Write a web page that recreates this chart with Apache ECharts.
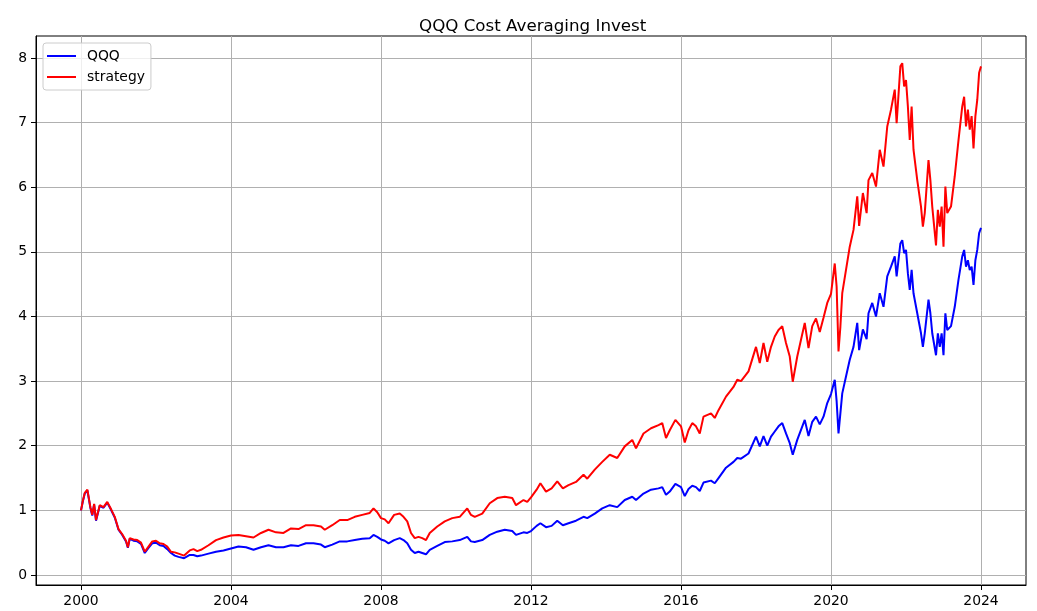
<!DOCTYPE html>
<html>
<head>
<meta charset="utf-8">
<title>QQQ Cost Averaging Invest</title>
<script src="https://cdn.jsdelivr.net/npm/echarts@6/dist/echarts.min.js"></script>
<style>
  html, body { margin: 0; padding: 0; background: #fff; }
  #chart { width: 1037px; height: 611px; }
</style>
</head>
<body>
<div id="chart"></div>
<script>
// time in decimal years
var years = [
  2000.0, 2000.05, 2000.1, 2000.17, 2000.25, 2000.3, 2000.35, 2000.4, 2000.5, 2000.6,
  2000.7, 2000.8, 2000.9, 2001.0, 2001.1, 2001.2, 2001.25, 2001.3, 2001.4, 2001.5,
  2001.6, 2001.7, 2001.8, 2001.9, 2002.0, 2002.1, 2002.2, 2002.3, 2002.4, 2002.5,
  2002.6, 2002.75, 2002.9, 2003.0, 2003.1, 2003.2, 2003.4, 2003.6, 2003.8, 2004.0,
  2004.2, 2004.4, 2004.6, 2004.8, 2005.0, 2005.2, 2005.4, 2005.6, 2005.8, 2006.0,
  2006.2, 2006.4, 2006.5, 2006.7, 2006.9, 2007.1, 2007.3, 2007.5, 2007.7, 2007.8,
  2007.9, 2008.0, 2008.1, 2008.2, 2008.35, 2008.5, 2008.6, 2008.7, 2008.8, 2008.9,
  2009.0, 2009.1, 2009.2, 2009.3, 2009.5, 2009.7, 2009.9, 2010.1, 2010.3, 2010.4,
  2010.5, 2010.7, 2010.9, 2011.1, 2011.3, 2011.5, 2011.6, 2011.8, 2011.9, 2012.0,
  2012.15, 2012.25, 2012.4, 2012.55, 2012.7, 2012.85, 2013.0, 2013.2, 2013.4, 2013.5,
  2013.7, 2013.9, 2014.1, 2014.3, 2014.5, 2014.7, 2014.8, 2015.0, 2015.2, 2015.4,
  2015.5, 2015.6, 2015.7, 2015.85, 2016.0, 2016.1, 2016.2, 2016.3, 2016.4, 2016.5,
  2016.6, 2016.8, 2016.9, 2017.0, 2017.2, 2017.4, 2017.5, 2017.6, 2017.8, 2018.0,
  2018.1, 2018.2, 2018.3, 2018.4, 2018.5, 2018.6, 2018.7, 2018.8, 2018.9, 2018.98,
  2019.1, 2019.3, 2019.4, 2019.5, 2019.6, 2019.7, 2019.8, 2019.9, 2020.0, 2020.1,
  2020.15, 2020.2, 2020.25, 2020.3, 2020.4, 2020.5, 2020.6, 2020.7, 2020.75, 2020.85,
  2020.95, 2021.0, 2021.1, 2021.2, 2021.3, 2021.4, 2021.5, 2021.6, 2021.7, 2021.75,
  2021.85, 2021.9, 2021.95, 2022.0, 2022.05, 2022.1, 2022.15, 2022.2, 2022.3, 2022.4,
  2022.45, 2022.5, 2022.6, 2022.65, 2022.7, 2022.8, 2022.85, 2022.9, 2022.95, 2023.0,
  2023.05, 2023.1, 2023.2, 2023.3, 2023.4, 2023.5, 2023.55, 2023.6, 2023.65, 2023.7,
  2023.75, 2023.8, 2023.85, 2023.9, 2023.95, 2024.0
];

var qqq = [
  1.00, 1.14, 1.26, 1.31, 1.04, 0.92, 1.09, 0.84, 1.07, 1.04,
  1.12, 1.01, 0.89, 0.70, 0.62, 0.52, 0.42, 0.56, 0.53, 0.52,
  0.48, 0.34, 0.42, 0.49, 0.50, 0.46, 0.45, 0.40, 0.34, 0.30,
  0.28, 0.26, 0.31, 0.31, 0.29, 0.30, 0.33, 0.36, 0.38, 0.41,
  0.44, 0.43, 0.39, 0.43, 0.46, 0.43, 0.43, 0.46, 0.45, 0.49,
  0.49, 0.47, 0.43, 0.47, 0.52, 0.52, 0.54, 0.56, 0.57, 0.62,
  0.59, 0.55, 0.53, 0.49, 0.54, 0.57, 0.54, 0.49, 0.39, 0.34,
  0.36, 0.34, 0.32, 0.39, 0.45, 0.51, 0.52, 0.54, 0.59, 0.52,
  0.51, 0.54, 0.62, 0.67, 0.70, 0.68, 0.62, 0.66, 0.65, 0.68,
  0.76, 0.80, 0.74, 0.76, 0.84, 0.77, 0.80, 0.84, 0.90, 0.88,
  0.95, 1.03, 1.08, 1.05, 1.16, 1.21, 1.16, 1.26, 1.32, 1.34,
  1.36, 1.24, 1.29, 1.41, 1.36, 1.22, 1.33, 1.38, 1.36, 1.30,
  1.43, 1.46, 1.42, 1.50, 1.66, 1.75, 1.81, 1.80, 1.88, 2.14,
  1.99, 2.15, 2.00, 2.14, 2.22, 2.30, 2.35, 2.19, 2.04, 1.86,
  2.09, 2.40, 2.15, 2.37, 2.45, 2.33, 2.45, 2.66, 2.80, 3.02,
  2.69, 2.19, 2.50, 2.81, 3.07, 3.33, 3.53, 3.90, 3.48, 3.80,
  3.65, 4.05, 4.21, 4.00, 4.36, 4.15, 4.62, 4.77, 4.93, 4.62,
  5.13, 5.18, 4.98, 5.03, 4.67, 4.41, 4.72, 4.36, 4.05, 3.74,
  3.53, 3.74, 4.26, 4.05, 3.74, 3.40, 3.74, 3.53, 3.74, 3.40,
  4.05, 3.79, 3.85, 4.15, 4.57, 4.93, 5.03, 4.77, 4.87, 4.72,
  4.77, 4.49, 4.87, 5.03, 5.29, 5.37
];

var strategy = [
  1.00, 1.15, 1.27, 1.32, 1.05, 0.93, 1.10, 0.85, 1.08, 1.05,
  1.13, 1.02, 0.90, 0.71, 0.63, 0.53, 0.43, 0.57, 0.55, 0.54,
  0.50, 0.36, 0.44, 0.52, 0.53, 0.49, 0.48, 0.44, 0.36, 0.35,
  0.33, 0.30, 0.38, 0.40, 0.37, 0.39, 0.46, 0.54, 0.58, 0.61,
  0.62, 0.60, 0.58, 0.65, 0.70, 0.66, 0.65, 0.72, 0.71, 0.77,
  0.77, 0.75, 0.70, 0.77, 0.85, 0.85, 0.90, 0.93, 0.96, 1.03,
  0.97, 0.88, 0.86, 0.80, 0.93, 0.95, 0.90, 0.83, 0.65, 0.57,
  0.59, 0.57, 0.54, 0.65, 0.75, 0.83, 0.88, 0.90, 1.03, 0.93,
  0.90, 0.95, 1.11, 1.19, 1.21, 1.19, 1.08, 1.16, 1.13, 1.20,
  1.32, 1.42, 1.29, 1.34, 1.45, 1.34, 1.39, 1.44, 1.55, 1.49,
  1.63, 1.75, 1.86, 1.81, 1.99, 2.09, 1.96, 2.19, 2.27, 2.32,
  2.35, 2.12, 2.24, 2.40, 2.30, 2.05, 2.24, 2.35, 2.30, 2.19,
  2.45, 2.50, 2.43, 2.55, 2.76, 2.91, 3.02, 3.00, 3.15, 3.53,
  3.28, 3.59, 3.30, 3.53, 3.69, 3.79, 3.85, 3.59, 3.38, 2.99,
  3.38, 3.90, 3.51, 3.85, 3.97, 3.76, 3.98, 4.21, 4.35, 4.82,
  4.46, 3.46, 3.84, 4.36, 4.72, 5.08, 5.34, 5.86, 5.40, 5.91,
  5.60, 6.11, 6.22, 6.01, 6.58, 6.32, 6.94, 7.20, 7.51, 6.99,
  7.87, 7.92, 7.56, 7.66, 7.25, 6.73, 7.25, 6.58, 6.11, 5.70,
  5.39, 5.60, 6.42, 6.11, 5.70, 5.10, 5.65, 5.39, 5.70, 5.08,
  6.01, 5.60, 5.70, 6.17, 6.73, 7.25, 7.40, 6.94, 7.20, 6.89,
  7.10, 6.60, 7.10, 7.35, 7.77, 7.87
];

var xTicks = [2000, 2004, 2008, 2012, 2016, 2020, 2024];
var yTicks = [0, 1, 2, 3, 4, 5, 6, 7, 8];

function pairs(ys) {
  return years.map(function (x, i) { return [x, ys[i]]; });
}

var chart = echarts.init(document.getElementById('chart'), null, { renderer: 'canvas' });
var font = 'DejaVu Sans';

chart.setOption({
  animation: false,
  backgroundColor: '#ffffff',
  textStyle: { fontFamily: font },
  title: {
    text: 'QQQ Cost Averaging Invest',
    left: 414,
    top: 13,
    textStyle: { fontFamily: font, fontSize: 16.7, fontWeight: 'normal', color: '#000' }
  },
  legend: {
    orient: 'vertical',
    left: 43,
    top: 43,
    padding: [6, 6, 6, 4],
    icon: 'rect',
    itemWidth: 29,
    itemHeight: 2,
    itemGap: 7,
    backgroundColor: 'rgba(255,255,255,0.8)',
    borderColor: '#cccccc',
    borderWidth: 1,
    borderRadius: 3,
    textStyle: { fontFamily: font, fontSize: 13.9, lineHeight: 14, color: '#000', padding: [0, 0, 0, 6] },
    data: ['QQQ', 'strategy']
  },
  grid: {
    left: 36, right: 11, top: 36, bottom: 26,
    show: true,
    borderColor: '#000',
    borderWidth: 1
  },
  xAxis: {
    type: 'value',
    min: 1998.8,
    max: 2025.2,
    axisLine: { show: true, onZero: false, lineStyle: { color: '#000', width: 1 } },
    axisTick: { show: true, length: 5, customValues: xTicks, lineStyle: { color: '#000' } },
    axisLabel: {
      customValues: xTicks,
      margin: 9,
      color: '#000',
      fontFamily: font,
      fontSize: 13.9,
      formatter: function (v) { return String(Math.round(v)); }
    },
    splitLine: { show: true, lineStyle: { color: '#b0b0b0', width: 1 } }
  },
  yAxis: {
    type: 'value',
    min: -0.155,
    max: 8.34,
    axisLine: { show: true, onZero: false, lineStyle: { color: '#000', width: 1 } },
    axisTick: { show: true, length: 5, customValues: yTicks, lineStyle: { color: '#000' } },
    axisLabel: {
      customValues: yTicks,
      margin: 9,
      color: '#000',
      fontFamily: font,
      fontSize: 13.9,
      formatter: function (v) { return String(Math.round(v)); }
    },
    splitLine: { show: true, lineStyle: { color: '#b0b0b0', width: 1 } }
  },
  series: [
    {
      name: 'QQQ',
      type: 'line',
      data: pairs(qqq),
      symbol: 'none',
      color: '#0000ff',
      lineStyle: { color: '#0000ff', width: 2 }
    },
    {
      name: 'strategy',
      type: 'line',
      data: pairs(strategy),
      symbol: 'none',
      color: '#ff0000',
      lineStyle: { color: '#ff0000', width: 2 }
    }
  ]
});

window.addEventListener('resize', function () {
  chart.resize();
});
</script>
</body>
</html>
